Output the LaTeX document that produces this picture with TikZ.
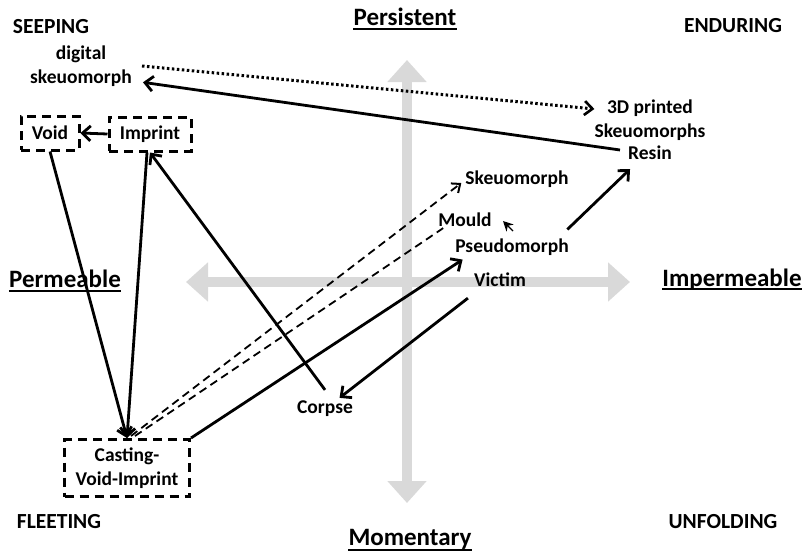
\documentclass[tikz,border=0pt]{standalone}
\usepackage{fontspec}
\setmainfont{Carlito}
\usetikzlibrary{arrows.meta,calc}
\definecolor{axisgray}{RGB}{217,217,217}
\begin{document}
\begin{tikzpicture}[x=1pt,y=-1pt,
  lbl/.style={font=\bfseries\fontsize{19.5}{23.5}\selectfont, inner sep=0pt, align=center},
  corner/.style={font=\bfseries\fontsize{21.5}{26}\selectfont, inner sep=0pt, anchor=base},
  axlbl/.style={font=\bfseries\fontsize{25}{29}\selectfont, inner sep=0pt, anchor=base, text depth=0pt},
  uline/.style={line width=2.2pt},
  dbox/.style={lbl, draw, line width=3pt, dash pattern=on 9pt off 6pt, minimum height=34pt},
  axis/.style={axisgray, line width=10pt, {Triangle[length=22pt,width=38pt]}-{Triangle[length=22pt,width=38pt]}},
  arr/.style={line width=2.8pt, -{Straight Barb[length=8pt,width=15pt,line width=2.8pt]}},
  darr/.style={line width=1.8pt, dash pattern=on 8pt off 5pt, -{Straight Barb[length=7pt,width=12pt,line width=2pt]}},
  dline/.style={line width=1.8pt, dash pattern=on 8pt off 5pt},
  dotarr/.style={line width=3pt, dash pattern=on 2.5pt off 2.5pt, -{Straight Barb[length=8pt,width=14pt,line width=2.6pt]}},
  tinyarr/.style={line width=1.2pt, -{Stealth[length=10pt,width=10pt]}}
]
\useasboundingbox (0,0) rectangle (804,555);

% axes
\draw[axis] (407,60) -- (407,503);
\draw[axis] (186,282) -- (630,282);

% axis labels
\node[axlbl] (pers) at (405,25) {Persistent};
\node[axlbl] (mom) at (410,545) {Momentary};
\node[axlbl] (perm) at (65,287) {Permeable};
\node[axlbl] (imperm) at (732,286) {Impermeable};
\draw[uline] ($(pers.south west)+(0,4)$) -- ($(pers.south east)+(0,4)$);
\draw[uline] ($(mom.south west)+(0,5)$) -- ($(mom.south east)+(0,5)$);
\draw[uline] ($(perm.south west)+(0,4)$) -- ($(perm.south east)+(0,4)$);
\draw[uline] ($(imperm.south west)+(0,3)$) -- ($(imperm.south east)+(0,3)$);

% corner labels
\node[corner] (seep) at (51,33) {SEEPING};
\node[corner] (endur) at (733,32) {ENDURING};
\node[corner] (fleet) at (59,528) {FLEETING};
\node[corner] (unfold) at (723,528) {UNFOLDING};

% nodes
\node[lbl] (dig) at (81,66) {digital\\skeuomorph};
\node[lbl] (ts) at (650,120) {3D printed\\Skeuomorphs};
\node[lbl] (resin) at (650,153) {Resin};
\node[lbl] (skeuo) at (517,179) {Skeuomorph};
\node[lbl] (mould) at (465,220) {Mould};
\node[lbl] (pseudo) at (512,247) {Pseudomorph};
\node[lbl] (victim) at (500,280) {Victim};
\node[lbl] (corpse) at (325,409) {Corpse};
\node[dbox, minimum width=58pt] (void) at (50,133) {Void};
\node[dbox, minimum width=82pt] (imp) at (150,134) {Imprint};
\node[dbox, minimum width=125pt, minimum height=57pt] (cast) at (127,468) {Casting-\\Void-Imprint};

% connectors
\draw[arr] (imp.west) -- (void.east);
\draw[arr] (void.south) -- (cast.north);
\draw[arr] ($(imp.south)+(-3,0)$) -- (cast.north);
\draw[arr] ($(corpse.north)+(0,-11)$) -- (imp.south);
\draw[darr] ($(cast.north)+(4,-2)$) -- ($(skeuo.west)+(-4,4)$);
\draw[dline] ($(cast.north)+(8,-2)$) -- ($(mould.south west)+(5,1)$);
\draw[arr] (cast.north east) -- ($(pseudo.south west)+(7.5,4)$);
\draw[arr] ($(victim.south west)+(-6,11)$) -- ($(corpse.north east)+(-13.5,-3)$);
\draw[arr] ($(pseudo.north east)+(-1.5,-9)$) -- ($(resin.south west)+(2,9)$);
\draw[arr] ($(resin.west)+(-8,-3)$) -- ($(dig.south east)+(11,-4)$);
\draw[dotarr] ($(dig.east)+(10,0)$) -- ($(ts.west)+(0,-11)$);
\coordinate (ma) at (513,231);
\coordinate (mb) at (503,221);
\draw[tinyarr] (ma) -- (mb);
\end{tikzpicture}
\end{document}
